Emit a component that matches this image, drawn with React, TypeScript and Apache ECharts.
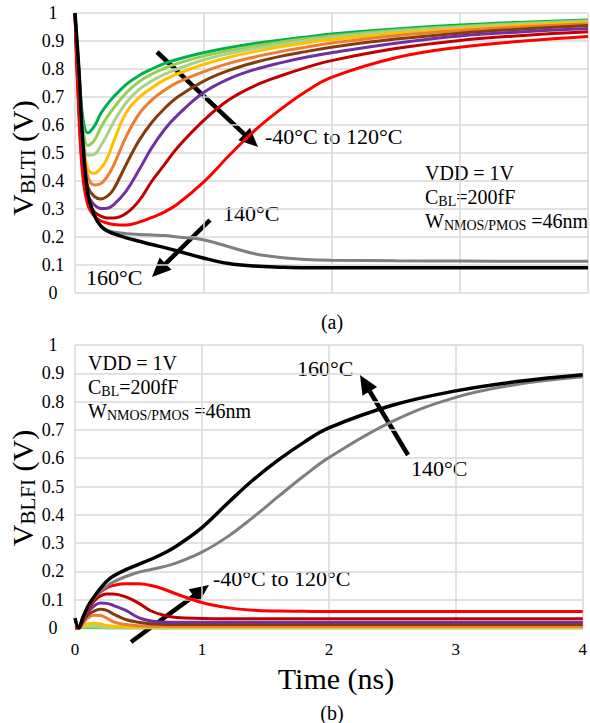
import React, { useEffect, useRef } from "react";
import * as echarts from "echarts";

const FONT = "'Liberation Serif', 'Times New Roman', serif";

const timeNs = [0, 0.03, 0.06, 0.1, 0.15, 0.2, 0.25, 0.3, 0.4, 0.5, 0.6, 0.7, 0.8, 1.0, 1.2, 1.4, 1.6, 1.8, 2.0, 2.5, 3.0, 3.5, 4.0];

const tempNames = ["-40°C", "-20°C", "0°C", "20°C", "40°C", "60°C", "80°C", "100°C", "120°C", "140°C", "160°C"];
const tempColors = ["#00B050", "#92D050", "#A9D18E", "#FFC000", "#ED7D31", "#843C0C", "#7030A0", "#C00000", "#FF0000", "#7F7F7F", "#000000"];

// (a) V_BLTI
const bltiM40 = [1.0, 0.80, 0.63, 0.572, 0.595, 0.64, 0.673, 0.70, 0.745, 0.777, 0.80, 0.82, 0.835, 0.858, 0.876, 0.891, 0.903, 0.914, 0.925, 0.943, 0.957, 0.967, 0.975];
const bltiM20 = [1.0, 0.78, 0.60, 0.527, 0.545, 0.59, 0.628, 0.66, 0.715, 0.755, 0.782, 0.803, 0.82, 0.846, 0.866, 0.882, 0.896, 0.908, 0.918, 0.938, 0.952, 0.963, 0.972];
const blti0 = [1.0, 0.76, 0.58, 0.492, 0.495, 0.525, 0.565, 0.61, 0.68, 0.727, 0.758, 0.782, 0.80, 0.832, 0.855, 0.873, 0.888, 0.901, 0.912, 0.933, 0.948, 0.96, 0.969];
const blti20 = [1.0, 0.74, 0.55, 0.445, 0.428, 0.445, 0.48, 0.54, 0.645, 0.698, 0.733, 0.762, 0.783, 0.816, 0.842, 0.862, 0.879, 0.893, 0.905, 0.927, 0.943, 0.956, 0.966];
const blti40 = [1.0, 0.72, 0.52, 0.415, 0.386, 0.39, 0.415, 0.455, 0.56, 0.64, 0.69, 0.725, 0.752, 0.79, 0.82, 0.843, 0.862, 0.878, 0.893, 0.919, 0.937, 0.951, 0.962];
const blti60 = [1.0, 0.70, 0.49, 0.38, 0.345, 0.336, 0.345, 0.37, 0.46, 0.545, 0.61, 0.66, 0.70, 0.756, 0.795, 0.823, 0.845, 0.862, 0.878, 0.907, 0.928, 0.943, 0.955];
const blti80 = [1.0, 0.68, 0.46, 0.35, 0.315, 0.302, 0.303, 0.315, 0.365, 0.44, 0.52, 0.585, 0.635, 0.715, 0.765, 0.798, 0.822, 0.842, 0.858, 0.892, 0.918, 0.933, 0.945];
const blti100 = [1.0, 0.66, 0.44, 0.33, 0.29, 0.275, 0.268, 0.268, 0.285, 0.33, 0.40, 0.46, 0.52, 0.615, 0.69, 0.74, 0.775, 0.805, 0.83, 0.873, 0.902, 0.92, 0.933];
const blti120 = [1.0, 0.64, 0.42, 0.315, 0.275, 0.258, 0.25, 0.245, 0.243, 0.253, 0.27, 0.29, 0.318, 0.395, 0.49, 0.58, 0.655, 0.72, 0.77, 0.84, 0.878, 0.90, 0.916];
const blti140 = [1.0, 0.78, 0.53, 0.36, 0.28, 0.24, 0.225, 0.218, 0.212, 0.209, 0.207, 0.205, 0.20, 0.19, 0.165, 0.14, 0.127, 0.12, 0.117, 0.115, 0.114, 0.113, 0.113];
const blti160 = [1.0, 0.80, 0.55, 0.355, 0.278, 0.24, 0.222, 0.212, 0.197, 0.185, 0.173, 0.162, 0.15, 0.125, 0.105, 0.096, 0.092, 0.09, 0.09, 0.09, 0.09, 0.09, 0.09];

// (b) V_BLFI
const blfiM40 = [0, 0, 0.001, 0.001, 0.001, 0.001, 0.0, 0, 0, 0, 0, 0, 0, 0, 0, 0, 0, 0, 0, 0, 0, 0, 0];
const blfiM20 = [0, 0, 0.002, 0.003, 0.003, 0.002, 0.001, 0.001, 0.0005, 0.0005, 0.0005, 0.0005, 0.0005, 0.0005, 0.0005, 0.0005, 0.0005, 0.0005, 0.0005, 0.0005, 0.0005, 0.0005, 0.0005];
const blfi0 = [0, 0, 0.004, 0.007, 0.007, 0.005, 0.003, 0.002, 0.001, 0.001, 0.001, 0.001, 0.001, 0.001, 0.001, 0.001, 0.001, 0.001, 0.001, 0.001, 0.001, 0.001, 0.001];
const blfi20 = [0, 0, 0.008, 0.015, 0.017, 0.014, 0.009, 0.006, 0.004, 0.003, 0.003, 0.003, 0.003, 0.003, 0.003, 0.003, 0.003, 0.003, 0.003, 0.003, 0.003, 0.003, 0.003];
const blfi40 = [0, 0, 0.015, 0.035, 0.045, 0.044, 0.035, 0.022, 0.012, 0.008, 0.006, 0.006, 0.006, 0.006, 0.006, 0.006, 0.006, 0.006, 0.006, 0.006, 0.006, 0.006, 0.006];
const blfi60 = [0, 0, 0.02, 0.045, 0.06, 0.066, 0.062, 0.05, 0.03, 0.02, 0.015, 0.013, 0.012, 0.012, 0.012, 0.012, 0.012, 0.012, 0.012, 0.012, 0.012, 0.012, 0.012];
const blfi80 = [0, 0, 0.025, 0.055, 0.078, 0.088, 0.087, 0.08, 0.062, 0.037, 0.025, 0.021, 0.02, 0.02, 0.02, 0.02, 0.02, 0.02, 0.02, 0.02, 0.02, 0.02, 0.02];
const blfi100 = [0, 0, 0.03, 0.065, 0.095, 0.113, 0.12, 0.12, 0.11, 0.088, 0.06, 0.045, 0.037, 0.034, 0.033, 0.033, 0.033, 0.033, 0.033, 0.033, 0.033, 0.033, 0.033];
const blfi120 = [0, 0, 0.03, 0.07, 0.105, 0.127, 0.142, 0.15, 0.156, 0.156, 0.15, 0.137, 0.12, 0.09, 0.072, 0.063, 0.06, 0.059, 0.058, 0.058, 0.058, 0.058, 0.058];
const blfi140 = [0.035, 0.0, 0.035, 0.073, 0.105, 0.13, 0.148, 0.162, 0.182, 0.197, 0.207, 0.217, 0.23, 0.268, 0.322, 0.39, 0.464, 0.536, 0.602, 0.73, 0.815, 0.862, 0.888];
const blfi160 = [0.035, 0.0, 0.035, 0.075, 0.11, 0.14, 0.165, 0.183, 0.206, 0.225, 0.243, 0.264, 0.29, 0.355, 0.44, 0.522, 0.593, 0.655, 0.707, 0.787, 0.838, 0.872, 0.895];

const bltiSeries = [bltiM40, bltiM20, blti0, blti20, blti40, blti60, blti80, blti100, blti120, blti140, blti160];
const blfiSeries = [blfiM40, blfiM20, blfi0, blfi20, blfi40, blfi60, blfi80, blfi100, blfi120, blfi140, blfi160];

const yTicks = [0, 0.1, 0.2, 0.3, 0.4, 0.5, 0.6, 0.7, 0.8, 0.9, 1];

function arrow(x1: number, y1: number, x2: number, y2: number) {
  const dx = x2 - x1, dy = y2 - y1;
  const L = Math.hypot(dx, dy);
  const ux = dx / L, uy = dy / L;
  const headLen = 19, headW = 8.5;
  const bx = x2 - ux * headLen, by = y2 - uy * headLen;
  const px = -uy, py = ux;
  return [
    { type: "line", shape: { x1, y1, x2: bx + ux * 3, y2: by + uy * 3 }, style: { stroke: "#000", lineWidth: 4.5 } },
    {
      type: "polygon",
      shape: { points: [[x2, y2], [bx + px * headW, by + py * headW], [bx - px * headW, by - py * headW]] },
      style: { fill: "#000" },
    },
  ];
}

function txt(x: number, y: number, text: string, size: number, extra: any = {}) {
  return {
    type: "text",
    x,
    y,
    style: { text, fontSize: size, fontFamily: FONT, fill: "#000", align: "left", verticalAlign: "middle", ...extra },
  };
}

const richSmall = {
  a: { fontSize: 20, fontFamily: FONT, lineHeight: 22, fill: "#000", color: "#000" },
  b: { fontSize: 14, fontFamily: FONT, lineHeight: 21, verticalAlign: "bottom", fill: "#000", color: "#000" },
};

function paramBlock(x: number, y0: number) {
  return [
    txt(x, y0, "VDD = 1V", 20),
    txt(x, y0 + 24, "{a|C}{b|BL}{a|=200fF}", 20, { rich: richSmall }),
    txt(x, y0 + 48, "{a|W}{b|NMOS/PMOS}{a| =46nm}", 20, { rich: richSmall }),
  ];
}

function yTitle(y: number, sub: string) {
  return {
    type: "text",
    x: 22,
    y,
    rotation: Math.PI / 2,
    style: {
      text: `{a|V}{b|${sub}}{a| (V)}`,
      align: "center",
      verticalAlign: "middle",
      fill: "#000",
      rich: {
        a: { fontSize: 30, fontFamily: FONT, lineHeight: 32, fill: "#000", color: "#000" },
        b: { fontSize: 21, fontFamily: FONT, lineHeight: 24, verticalAlign: "bottom", fill: "#000", color: "#000" },
      },
    },
  };
}

export default function App() {
  const ref = useRef<HTMLDivElement>(null);
  useEffect(() => {
    if (!ref.current) return;
    const chart = echarts.init(ref.current, undefined, { renderer: "svg" });

    const splitStyle = { show: true, lineStyle: { color: "#D9D9D9", width: 1.5 } };
    const yAxisBase = (gi: number) => ({
      type: "value",
      gridIndex: gi,
      min: 0,
      max: 1,
      interval: 0.1,
      axisLine: { show: false },
      axisTick: { show: false },
      splitLine: splitStyle,
      axisLabel: {
        color: "#000",
        fontFamily: FONT,
        fontSize: 18,
        align: "center",
        margin: 22,
        formatter: (v: number) => {
          const m = yTicks.find((t) => Math.abs(t - v) < 1e-6);
          return m === undefined ? "" : String(m);
        },
      },
    });
    const xAxisBase = (gi: number, showLabel: boolean) => ({
      type: "value",
      gridIndex: gi,
      min: 0,
      max: 4,
      interval: 1,
      axisLine: { show: false },
      axisTick: { show: false },
      splitLine: splitStyle,
      axisLabel: { show: showLabel, color: "#000", fontFamily: FONT, fontSize: 17, margin: 13 },
    });

    const series: any[] = [];
    bltiSeries.forEach((arr, i) => {
      series.push({
        type: "line",
        name: tempNames[i],
        xAxisIndex: 0,
        yAxisIndex: 0,
        data: timeNs.map((t, k) => [t, arr[k]]),
        showSymbol: false,
        smooth: 0.4,
        lineStyle: { color: tempColors[i], width: i === 10 ? 3.5 : 3 },
        z: 2 + i,
      });
    });
    blfiSeries.forEach((arr, i) => {
      series.push({
        type: "line",
        name: tempNames[i],
        xAxisIndex: 1,
        yAxisIndex: 1,
        data: timeNs.map((t, k) => [t, arr[k]]),
        showSymbol: false,
        smooth: 0.4,
        lineStyle: { color: tempColors[i], width: i === 10 ? 3.5 : 3 },
        z: 2 + i,
      });
    });

    const graphic: any[] = [
      ...arrow(157, 52, 258, 147),
      ...arrow(210, 220, 152, 277),
      ...arrow(408, 455, 360, 375),
      ...arrow(131, 642, 209, 585),
      txt(265, 136, "-40°C to 120°C", 22),
      txt(223, 213, "140°C", 22),
      txt(86, 277, "160°C", 22),
      txt(297, 368, "160°C", 22),
      txt(411, 468, "140°C", 22),
      txt(213, 578, "-40°C to 120°C", 22),
      ...paramBlock(425, 173),
      ...paramBlock(88, 363),
      txt(332, 322, "(a)", 20, { align: "center" }),
      txt(332, 713, "(b)", 20, { align: "center" }),
      txt(336, 678, "Time (ns)", 30, { align: "center" }),
      yTitle(158, "BLTI"),
      yTitle(488, "BLFI"),
    ];

    chart.setOption({
      animation: false,
      backgroundColor: "#fff",
      grid: [
        { left: 75, right: 2, top: 13, height: 280 },
        { left: 75, right: 2, top: 345, height: 283 },
      ],
      xAxis: [xAxisBase(0, false), xAxisBase(1, true)],
      yAxis: [yAxisBase(0), yAxisBase(1)],
      series,
      graphic: { elements: graphic },
    });
    return () => chart.dispose();
  }, []);
  return <div ref={ref} style={{ position: "fixed", left: 0, top: 0, width: 590, height: 723, background: "#fff" }} />;
}
